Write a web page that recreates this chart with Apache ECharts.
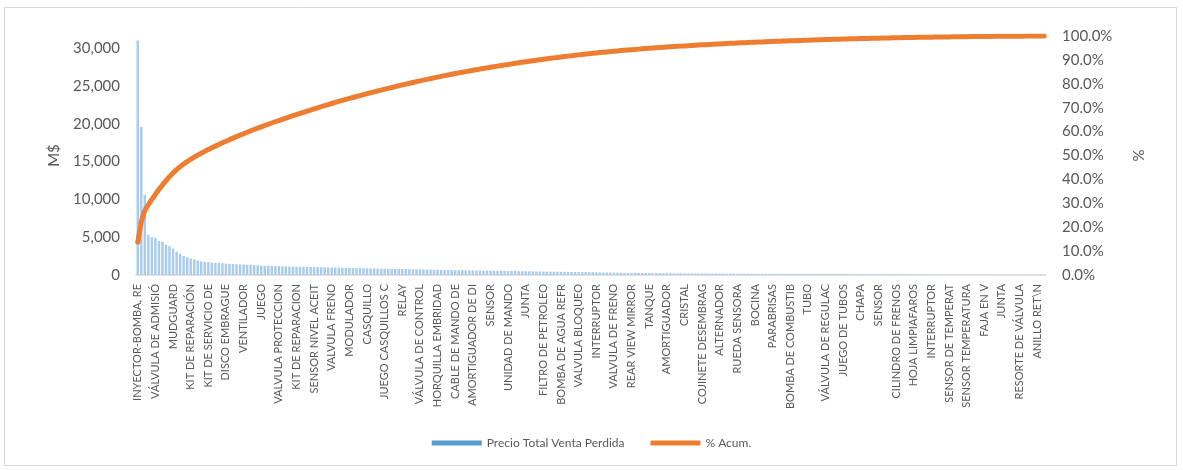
<!DOCTYPE html>
<html>
<head>
<meta charset="utf-8">
<script src="https://cdn.jsdelivr.net/npm/echarts@6/dist/echarts.min.js"></script>
<style>
html,body{margin:0;padding:0;background:#fff;}
#chart{width:1183px;height:470px;}
</style>
</head>
<body>
<div id="chart"></div>
<script>
// Tick labels shown on the category axis (every 5th part)
const tickLabels = [
  "INYECTOR-BOMBA, RE","VÁLVULA DE ADMISIÓ","MUDGUARD","KIT DE REPARACIÓN","KIT DE SERVICIO DE",
  "DISCO EMBRAGUE","VENTILADOR","JUEGO","VALVULA PROTECCION","KIT DE REPARACION",
  "SENSOR NIVEL ACEIT","VALVULA FRENO","MODULADOR","CASQUILLO","JUEGO CASQUILLOS C",
  "RELAY","VÁLVULA DE CONTROL","HORQUILLA EMBRIDAD","CABLE DE MANDO DE","AMORTIGUADOR DE DI",
  "SENSOR","UNIDAD DE MANDO","JUNTA","FILTRO DE PETROLEO","BOMBA DE AGUA REFR",
  "VALVULA BLOQUEO","INTERRUPTOR","VALVULA DE FRENO","REAR VIEW MIRROR","TANQUE",
  "AMORTIGUADOR","CRISTAL","COJINETE DESEMBRAG","ALTERNADOR","RUEDA SENSORA",
  "BOCINA","PARABRISAS","BOMBA DE COMBUSTIB","TUBO","VÁLVULA DE REGULAC",
  "JUEGO DE TUBOS","CHAPA","SENSOR","CILINDRO DE FRENOS","HOJA LIMPIAFAROS",
  "INTERRUPTOR","SENSOR DE TEMPERAT","SENSOR TEMPERATURA","FAJA EN V","JUNTA",
  "RESORTE DE VÁLVULA","ANILLO RET\\N"
];
const labelEvery = 5;

// Precio Total Venta Perdida (M$), sorted descending
const ventaPerdida = [
  31000,19600,10600,5300,5000,4900,4500,4400,4000,3800,3500,3100,2800,2500,2350,2200,2050,1900,1800,1750,1700,
  1650,1600,1580,1550,1500,1480,1450,1420,1400,1380,1350,1330,1300,1280,1250,1230,
  1200,1190,1180,1170,1150,1140,1130,1120,1100,1090,1080,1070,1060,1050,1040,1030,1020,1010,1000,990,
  970,960,950,940,920,910,900,890,880,870,860,850,840,830,820,815,810,805,800,790,
  775,765,755,745,735,725,715,705,695,685,675,665,655,645,635,625,615,605,598,590,583,576,569,562,555,548,541,534,
  525,518,511,504,497,490,483,476,469,462,455,448,441,434,427,420,413,406,399,392,385,378,371,364,357,350,343,336,
  328,320,312,305,298,291,285,279,273,268,263,258,253,248,243,238,233,229,225,221,217,213,209,205,201,198,195,192,189,
  186,183,180,177,174,171,168,165,162,159,156,153,150,147,144,141,139,137,135,133,131,129,127,125,123,121,119,117,
  115,113,111,109,107,105,103,101,99,97,95,93,91,89,87,85,84,83,82,81,80,78,76,74,72,70,68,66,64,62,60,58,56,54,52,50,
  49,48,47,46,45,44,43,42,41,40,39,38,37,36,35,34,33,32,31,30,29,28,27,26,25,24,23,22,21,20,19,18
];

const categories = ventaPerdida.map((v, i) => (i % labelEvery === 0 && tickLabels[i / labelEvery] !== undefined) ? tickLabels[i / labelEvery] : '');
const total = ventaPerdida.reduce((a, b) => a + b, 0);
let run = 0;
const acum = ventaPerdida.map(v => { run += v; return run / total; });

const FONT = 'Lato';
const GREY = '#595959';
const chart = echarts.init(document.getElementById('chart'), null, {renderer: 'canvas'});
chart.setOption({
  animation: false,
  backgroundColor: '#ffffff',
  textStyle: {fontFamily: FONT},
  graphic: [{
    type: 'rect', shape: {x: 4.5, y: 7.5, width: 1172, height: 458},
    style: {fill: 'none', stroke: '#d9d9d9', lineWidth: 1}, silent: true, z: -1
  }],
  grid: {left: 136, right: 137, top: 36, bottom: 195, containLabel: false},
  legend: {
    bottom: 16, left: 'center', itemGap: 26, itemWidth: 50, itemHeight: 5,
    textStyle: {color: GREY, fontSize: 12, fontFamily: FONT},
    data: [
      {name: 'Precio Total Venta Perdida', icon: 'rect', itemStyle: {color: '#5b9bd5'}},
      {name: '% Acum.', icon: 'roundRect', itemStyle: {color: '#ed7d31'}}
    ]
  },
  xAxis: {
    type: 'category', data: categories, boundaryGap: true,
    axisLine: {lineStyle: {color: '#d9d9d9', width: 1.5}},
    axisTick: {show: false},
    axisLabel: {interval: labelEvery - 1, rotate: 90, color: GREY, fontSize: 11, margin: 9, fontFamily: FONT}
  },
  yAxis: [{
    type: 'value', min: 0, max: 31600, interval: 5000,
    name: 'M$', nameLocation: 'middle', nameGap: 74,
    nameTextStyle: {color: GREY, fontSize: 15, fontFamily: FONT},
    axisLine: {show: false}, axisTick: {show: false}, splitLine: {show: false},
    axisLabel: {color: GREY, fontSize: 15, margin: 16, showMaxLabel: false,
      formatter: v => v.toLocaleString('en-US')}
  }, {
    type: 'value', min: 0, max: 1, interval: 0.1,
    name: '%', nameLocation: 'middle', nameGap: 86,
    nameTextStyle: {color: GREY, fontSize: 15, fontFamily: FONT},
    axisLine: {show: false}, axisTick: {show: false}, splitLine: {show: false},
    axisLabel: {color: GREY, fontSize: 15, margin: 16,
      formatter: v => (v * 100).toFixed(1) + '%'}
  }],
  series: [{
    name: 'Precio Total Venta Perdida', type: 'bar', yAxisIndex: 0,
    data: ventaPerdida, barCategoryGap: '30%',
    itemStyle: {color: '#a9cbec'}
  }, {
    name: '% Acum.', type: 'line', yAxisIndex: 1, data: acum,
    symbol: 'none', smooth: false,
    lineStyle: {color: '#ed7d31', width: 5, cap: 'round'}, itemStyle: {color: '#ed7d31'}
  }]
});
</script>
</body>
</html>
